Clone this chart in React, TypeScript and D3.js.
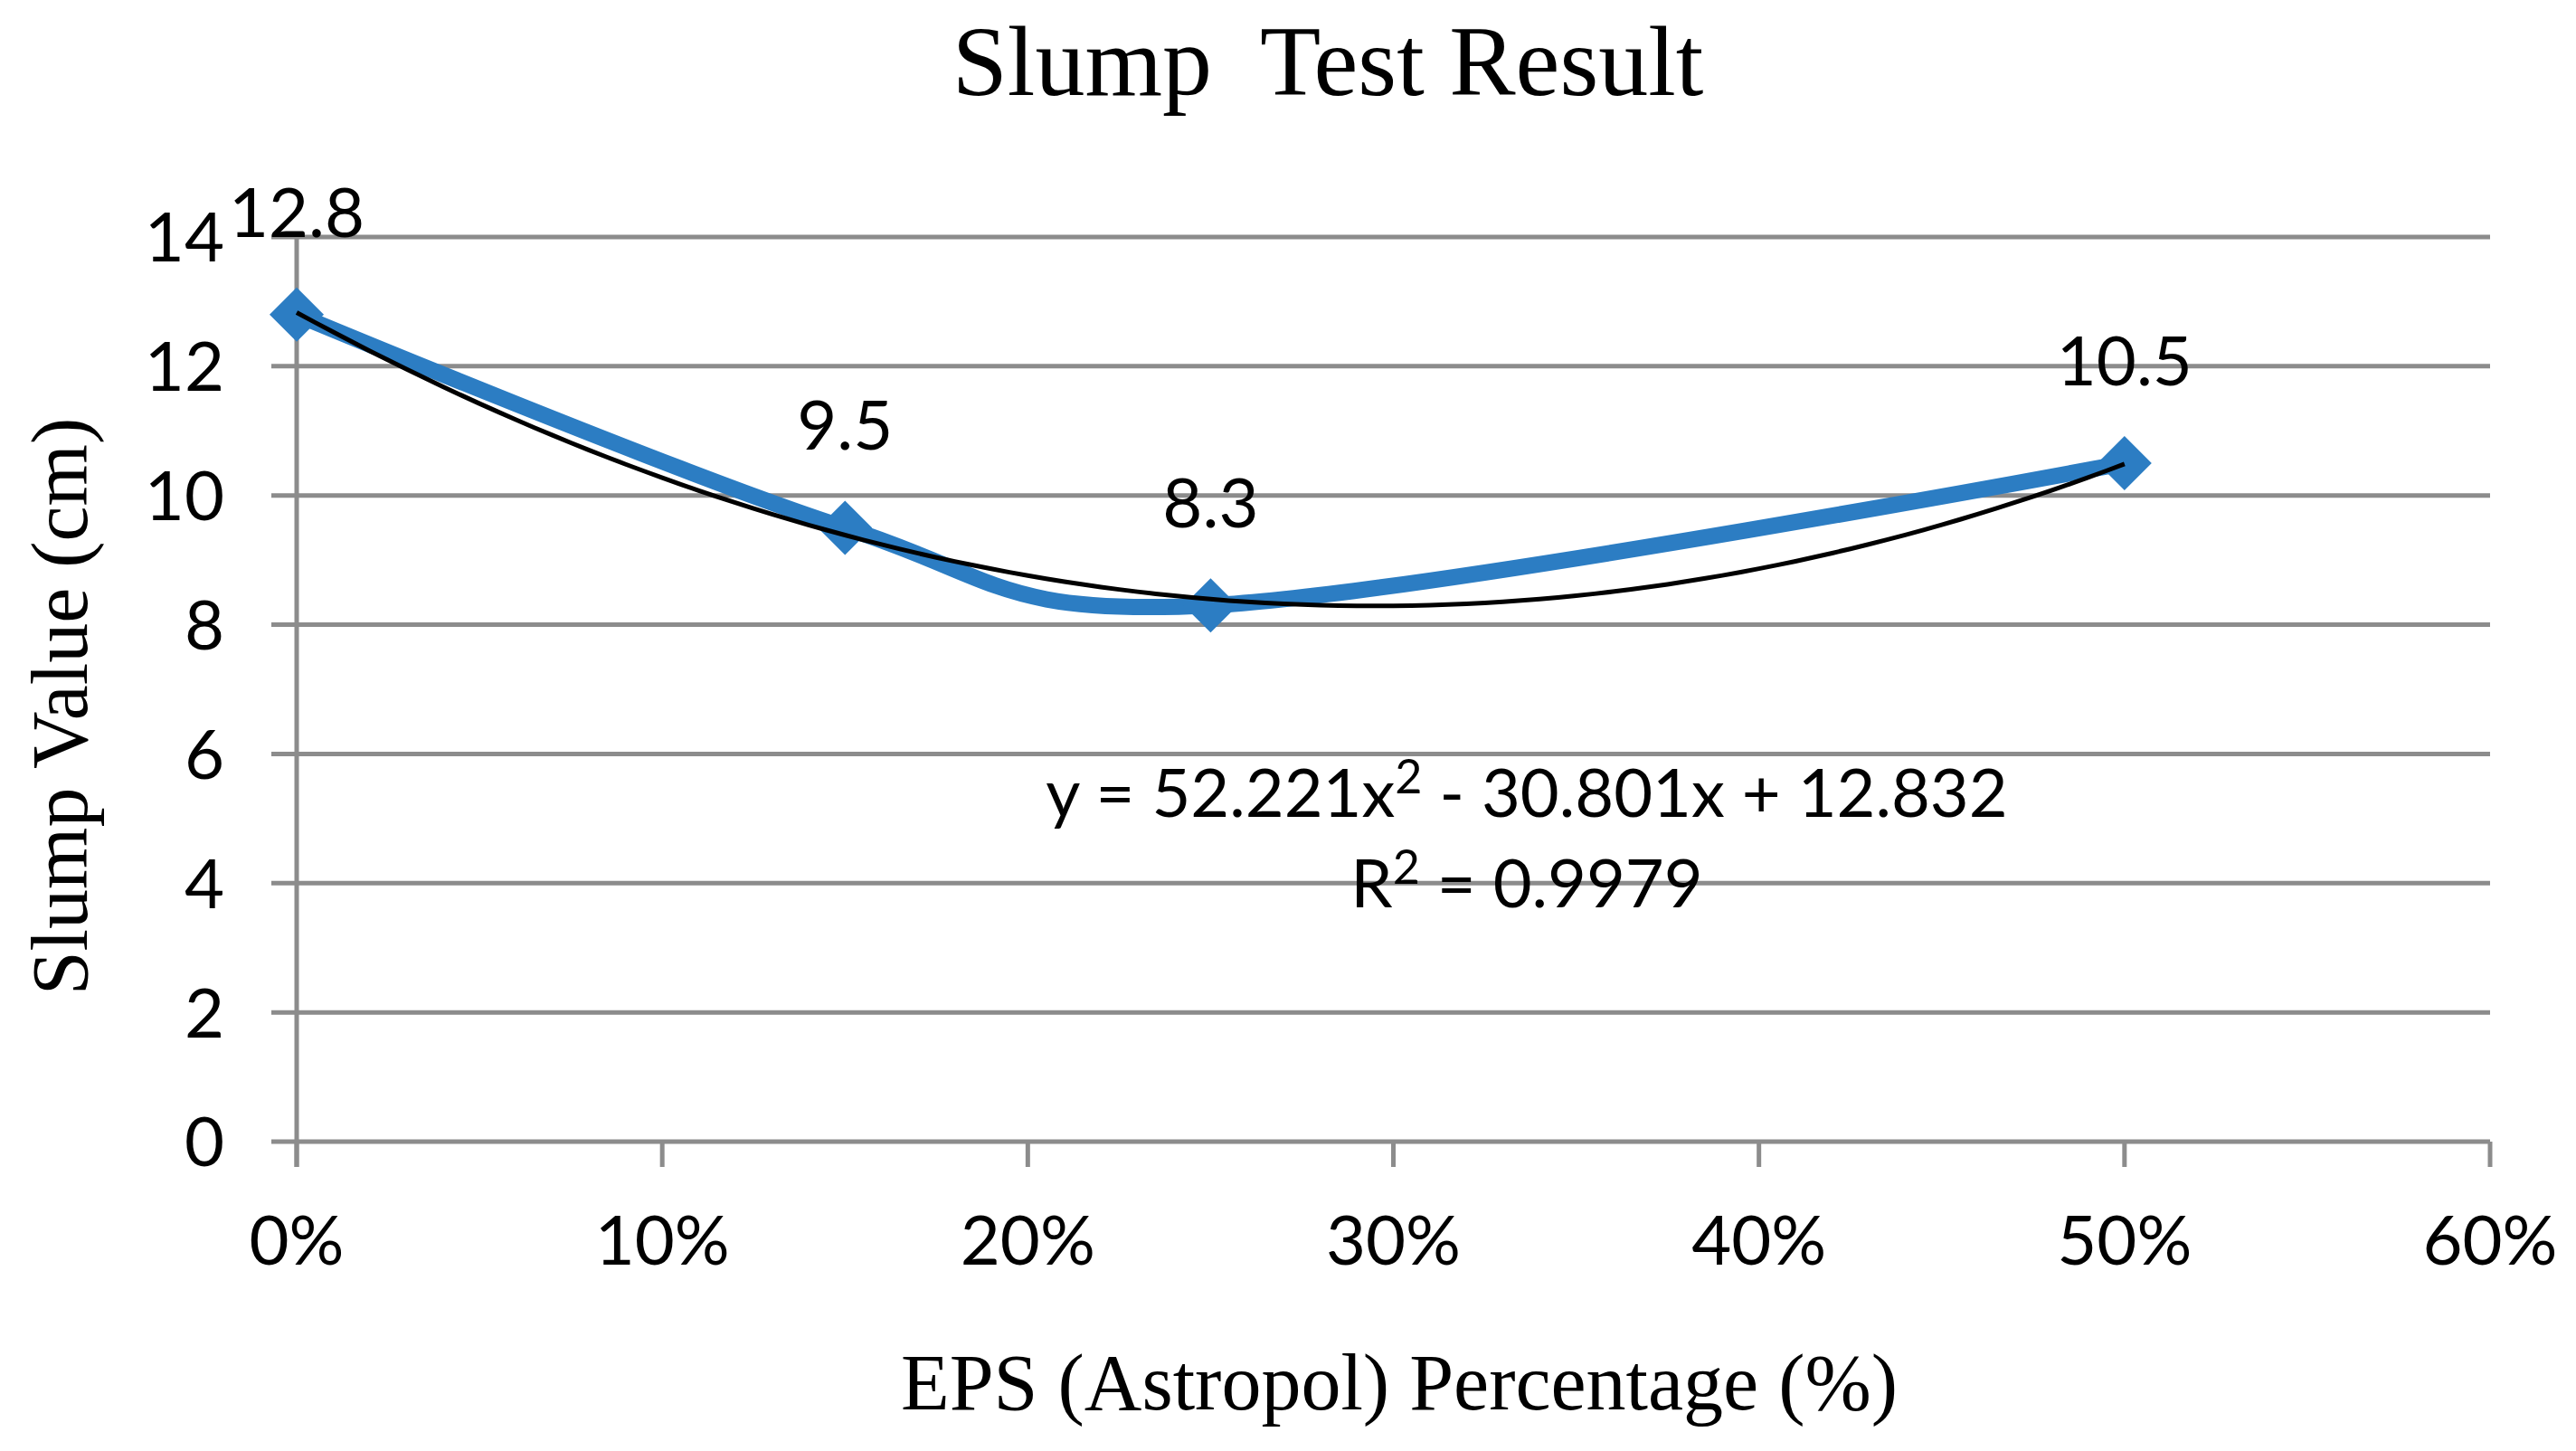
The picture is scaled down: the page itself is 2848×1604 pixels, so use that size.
import React from "react";
import * as d3 from "d3";

const W = 2848;
const H = 1604;

const eps = [0, 0.15, 0.25, 0.5];
const slump = [12.8, 9.5, 8.3, 10.5];
const dataLabels = ["12.8", "9.5", "8.3", "10.5"];
const xTicks = [0, 0.1, 0.2, 0.3, 0.4, 0.5, 0.6];
const yTicks = [0, 2, 4, 6, 8, 10, 12, 14];
const trendCoef = [12.832, -30.801, 52.221]; // c0 + c1 x + c2 x^2
const eqParts = ["y = 52.221x", "2", " - 30.801x + 12.832"];
const r2Parts = ["R", "2", " = 0.9979"];
const title = "Slump\u00A0 Test Result";
const yTitle = "Slump Value (cm)";
const xTitle = "EPS (Astropol) Percentage (%)";

const serif = "'Liberation Serif', 'Times New Roman', serif";
const sans = "Lato, 'Open Sans', sans-serif";

export default function App() {
  const x = d3.scaleLinear().domain([0, 0.6]).range([328, 2753]);
  const y = d3.scaleLinear().domain([0, 14]).range([1262, 262]);
  const blue = "#2C7DC3";
  const grid = "#8C8C8C";

  const pts = eps.map((e, i) => [e, slump[i]] as [number, number]);
  const line = d3
    .line<[number, number]>()
    .x((d) => x(d[0]))
    .y((d) => y(d[1]))
    .curve(d3.curveCardinal.tension(0));

  const trendX = d3.range(0, 0.5 + 1e-9, 0.005);
  const trendPts = trendX.map(
    (t) => [t, trendCoef[0] + trendCoef[1] * t + trendCoef[2] * t * t] as [number, number]
  );
  const trendLine = d3
    .line<[number, number]>()
    .x((d) => x(d[0]))
    .y((d) => y(d[1]));

  const diamond = (cx: number, cy: number, r: number) =>
    `M${cx},${cy - r}L${cx + r},${cy}L${cx},${cy + r}L${cx - r},${cy}Z`;

  const x0 = x(0);
  const xEnd = x(0.6);
  const y0 = y(0);

  const supStyle = { fontSize: 52 };

  return (
    <svg
      width={W}
      height={H}
      style={{ position: "absolute", left: 0, top: 0, background: "#fff" }}
    >
      {/* title */}
      <text x={1468} y={105} textAnchor="middle" fontFamily={serif} fontSize={110} fill="#000">
        {title}
      </text>

      {/* gridlines + y ticks */}
      {yTicks.map((t) => (
        <g key={t}>
          <line x1={x0 - 28} x2={xEnd} y1={y(t)} y2={y(t)} stroke={grid} strokeWidth={5} />
          <text
            x={248}
            y={y(t)}
            dy="0.36em"
            textAnchor="end"
            fontFamily={sans}
            fontSize={76}
            fill="#000"
          >
            {t}
          </text>
        </g>
      ))}

      {/* y axis */}
      <line x1={x0} x2={x0} y1={y(14)} y2={y0 + 28} stroke={grid} strokeWidth={5} />

      {/* x ticks */}
      {xTicks.map((t) => (
        <g key={t}>
          <line x1={x(t)} x2={x(t)} y1={y0} y2={y0 + 28} stroke={grid} strokeWidth={5} />
          <text x={x(t)} y={1398} textAnchor="middle" fontFamily={sans} fontSize={76} fill="#000">
            {d3.format(".0%")(t)}
          </text>
        </g>
      ))}

      {/* data line */}
      <path
        d={line(pts) || ""}
        fill="none"
        stroke={blue}
        strokeWidth={18}
        strokeLinejoin="round"
        strokeLinecap="round"
      />
      {pts.map((p, i) => (
        <path key={i} d={diamond(x(p[0]), y(p[1]), 30)} fill={blue} />
      ))}

      {/* trendline */}
      <path
        d={trendLine(trendPts) || ""}
        fill="none"
        stroke="#000"
        strokeWidth={5}
        strokeLinejoin="round"
      />

      {/* data labels */}
      {pts.map((p, i) => (
        <text
          key={i}
          x={x(p[0])}
          y={y(p[1]) - 86}
          textAnchor="middle"
          fontFamily={sans}
          fontSize={76}
          fill="#000"
        >
          {dataLabels[i]}
        </text>
      ))}

      {/* equation */}
      <text x={1688} y={903} textAnchor="middle" fontFamily={sans} fontSize={74} fill="#000">
        <tspan>{eqParts[0]}</tspan>
        <tspan dy={-26} style={supStyle}>{eqParts[1]}</tspan>
        <tspan dy={26}>{eqParts[2]}</tspan>
      </text>
      <text x={1688} y={1003} textAnchor="middle" fontFamily={sans} fontSize={74} fill="#000">
        <tspan>{r2Parts[0]}</tspan>
        <tspan dy={-26} style={supStyle}>{r2Parts[1]}</tspan>
        <tspan dy={26}>{r2Parts[2]}</tspan>
      </text>

      {/* axis titles */}
      <text
        transform={`translate(96,781) rotate(-90)`}
        textAnchor="middle"
        fontFamily={serif}
        fontSize={88}
        fill="#000"
      >
        {yTitle}
      </text>
      <text x={1547} y={1558} textAnchor="middle" fontFamily={serif} fontSize={88} fill="#000">
        {xTitle}
      </text>
    </svg>
  );
}
